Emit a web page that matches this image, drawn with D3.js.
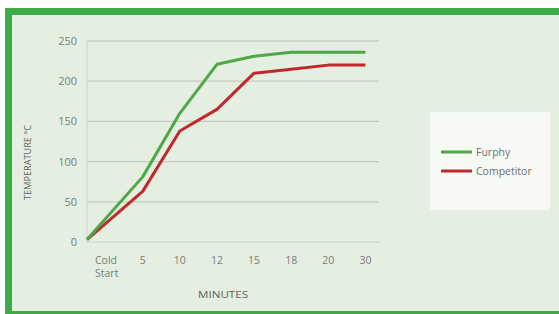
<!DOCTYPE html>
<html>
<head>
<meta charset="utf-8">
<script src="https://cdn.jsdelivr.net/npm/d3@7"></script>
<style>
  body { margin: 0; background: #fff; }
  svg { display: block; }
  text { font-family: "Open Sans", "Lato", sans-serif; }
</style>
</head>
<body>
<svg id="chart" width="559" height="314"></svg>
<script>
// chart data
const minutes = ["Cold Start", "5", "10", "12", "15", "18", "20", "30"]
const furphy = [3, 81, 160, 221, 231, 236, 236, 236]
const competitor = [3, 63, 138, 165, 210, 215, 220, 220]
const yTicks = [0, 50, 100, 150, 200, 250]
const seriesNames = ["Furphy", "Competitor"]
const seriesColors = ["#4ea847", "#c0282b"]

const svg = d3.select("#chart")

// frame: green border top, left, bottom
svg.append("rect").attr("x", 5).attr("y", 8).attr("width", 554).attr("height", 306).attr("fill", "#3eab49")
svg.append("rect").attr("x", 12).attr("y", 15).attr("width", 547).attr("height", 296).attr("fill", "#e5efe1")

let x = d3.scaleBand().domain(minutes).range([87, 384])
let y = d3.scaleLinear().domain([0, 250]).range([242, 41])

// gridlines
svg.append("g")
    .selectAll("line")
    .data(yTicks)
    .join("line")
    .attr("x1", 87)
    .attr("x2", 379)
    .attr("y1", d => y(d))
    .attr("y2", d => y(d))
    .attr("stroke", d => d === 0 ? "#d3d9cf" : "#c5cbc0")
    .attr("stroke-width", 1.3)

// y axis line
svg.append("line")
    .attr("x1", 87).attr("x2", 87)
    .attr("y1", y(250)).attr("y2", y(0))
    .attr("stroke", "#d0d6cb").attr("stroke-width", 1)

// y tick labels
svg.append("g")
    .selectAll("text")
    .data(yTicks)
    .join("text")
    .attr("x", 77)
    .attr("y", d => y(d) + 4)
    .attr("text-anchor", "end")
    .attr("font-size", 11)
    .attr("fill", "#7a7c77")
    .text(d => d)

// x tick labels ("Cold Start" wraps onto two left-aligned lines)
let xLabels = svg.append("g")
    .selectAll("text")
    .data(minutes)
    .join("text")
    .attr("y", 264)
    .attr("font-size", 10.5)
    .attr("fill", "#7a7c77")
    .attr("text-anchor", d => d.includes(" ") ? "start" : "middle")

xLabels.each(function (d) {
    let words = d.split(" ")
    let t = d3.select(this)
    let cx = words.length > 1 ? x(d) + 8 : x(d) + x.bandwidth() / 2
    words.forEach((w, i) => {
        t.append("tspan")
            .attr("x", cx)
            .attr("dy", i === 0 ? 0 : 13)
            .text(w)
    })
})

// axis titles
svg.append("text")
    .attr("x", 198).attr("y", 298)
    .attr("font-size", 9.5)
    .attr("fill", "#5f615d")
    .attr("textLength", 50)
    .attr("lengthAdjust", "spacingAndGlyphs")
    .text("MINUTES")

svg.append("text")
    .attr("transform", "translate(31,200) rotate(-90)")
    .attr("font-size", 9.5)
    .attr("fill", "#5f615d")
    .attr("textLength", 75)
    .attr("lengthAdjust", "spacingAndGlyphs")
    .text("TEMPERATURE °C")

// lines: first point sits on the axis, the rest at band centres
let px = (d, i) => i === 0 ? x(minutes[i]) : x(minutes[i]) + x.bandwidth() / 2
let line = d3.line().x((d, i) => px(d, i)).y(d => y(d))

svg.append("g")
    .selectAll("path")
    .data([competitor, furphy])
    .join("path")
    .attr("d", line)
    .attr("fill", "none")
    .attr("stroke", (d, i) => i === 0 ? seriesColors[1] : seriesColors[0])
    .attr("stroke-width", 3)
    .attr("stroke-linejoin", "round")

// legend
let legend = svg.append("g")
legend.append("rect")
    .attr("x", 430).attr("y", 112).attr("width", 120).attr("height", 98)
    .attr("fill", "#f6f9f4")
    .attr("stroke", "#eef3eb")

legend.selectAll("line")
    .data(seriesNames)
    .join("line")
    .attr("x1", 441).attr("x2", 472)
    .attr("y1", (d, i) => 152 + i * 19)
    .attr("y2", (d, i) => 152 + i * 19)
    .attr("stroke", (d, i) => seriesColors[i])
    .attr("stroke-width", 3)

legend.selectAll("text")
    .data(seriesNames)
    .join("text")
    .attr("x", 476)
    .attr("y", (d, i) => 156 + i * 19)
    .attr("font-size", 10.5)
    .attr("fill", "#6d6f6b")
    .text(d => d)
</script>
</body>
</html>
